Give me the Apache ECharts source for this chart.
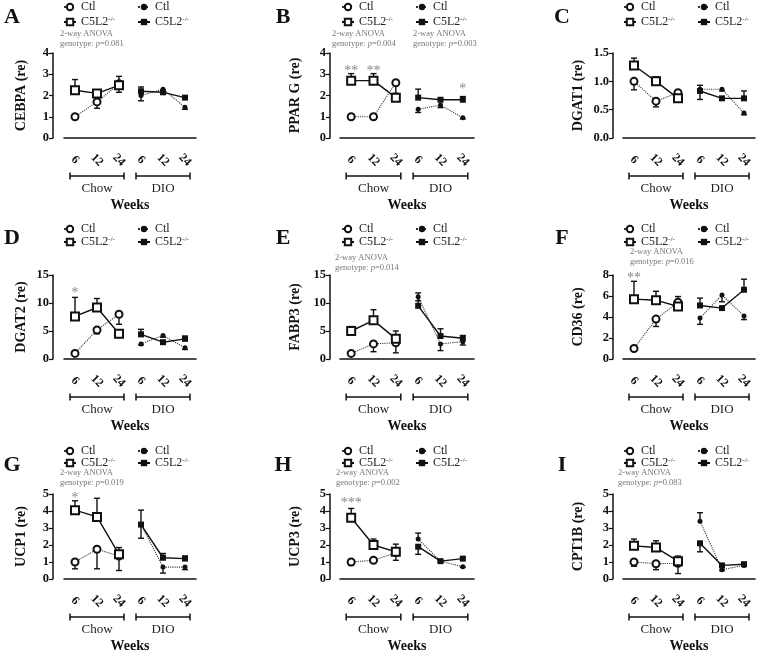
<!DOCTYPE html>
<html>
<head>
<meta charset="utf-8">
<title>C5L2 gene expression</title>
<script src="https://cdn.jsdelivr.net/npm/echarts@6.0.0/dist/echarts.min.js"></script>
<style>
  html, body { margin: 0; padding: 0; background: #fff; }
  #chart { width: 760px; height: 654px; }
</style>
</head>
<body>
<div id="chart"></div>
<script>
// categories: three time points (weeks) for each diet
const diets = ['Chow', 'DIO'];
const weeks = ['6', '12', '24'];
const genes = ['CEBPA', 'PPAR G', 'DGAT1', 'DGAT2', 'FABP3', 'CD36', 'UCP1', 'UCP3', 'CPT1B'];
const letters = ['A', 'B', 'C', 'D', 'E', 'F', 'G', 'H', 'I'];

// y axis range per panel
const yMax = [4, 4, 1.5, 15, 15, 8, 5, 5, 5];
const yStep = [1, 1, 0.5, 5, 5, 2, 1, 1, 1];

// means, order: Chow 6/12/24, DIO 6/12/24
const ctlMean = [
  [1.0, 1.7, 2.55, 2.0, 2.3, 1.45],
  [1.0, 1.0, 2.6, 1.35, 1.55, 0.95],
  [1.0, 0.65, 0.8, 0.86, 0.86, 0.44],
  [1.0, 5.2, 8.0, 2.7, 4.2, 2.0],
  [1.0, 2.7, 2.9, 11.1, 2.7, 3.1],
  [1.0, 3.8, 5.4, 3.9, 6.1, 4.1],
  [1.0, 1.75, 1.35, 3.2, 0.7, 0.7],
  [1.0, 1.1, 1.55, 2.35, 1.05, 0.72],
  [1.0, 0.9, 0.92, 3.4, 0.55, 0.8]
];
// SEM, sign gives the side the bar is drawn on (+ above, - below)
const ctlErr = [
  [-0.1, -0.3, -0.4, -0.25, -0.1, -0.1],
  [-0.1, -0.1, -0.5, -0.15, -0.12, -0.05],
  [-0.15, -0.1, -0.03, -0.18, -0.03, -0.03],
  [-0.3, -0.7, -1.8, -0.2, -0.3, -0.3],
  [-0.2, -1.4, -1.8, -0.7, -1.2, -0.6],
  [-0.1, -0.7, -0.4, -0.6, -0.65, -0.35],
  [-0.4, -1.15, -0.85, -0.8, -0.35, -0.15],
  [-0.2, -0.1, -0.45, 0.35, -0.05, -0.03],
  [-0.25, -0.35, -0.6, 0.5, -0.05, -0.05]
];
const koMean = [
  [2.25, 2.1, 2.48, 2.2, 2.15, 1.9],
  [2.7, 2.7, 1.9, 1.9, 1.8, 1.8],
  [1.28, 1.0, 0.7, 0.83, 0.7, 0.7],
  [7.6, 9.2, 4.5, 4.4, 3.0, 3.6],
  [5.0, 6.9, 3.6, 9.5, 4.1, 3.7],
  [5.7, 5.6, 5.0, 5.1, 4.85, 6.6],
  [4.05, 3.65, 1.45, 3.2, 1.25, 1.2],
  [3.6, 2.0, 1.6, 1.9, 1.05, 1.2],
  [1.95, 1.85, 1.05, 2.1, 0.8, 0.87]
];
const koErr = [
  [0.5, 0.1, 0.42, 0.2, 0.1, 0.05],
  [0.33, 0.33, 0.12, 0.4, 0.04, 0.15],
  [0.13, 0.08, 0.03, 0.1, 0.02, 0.13],
  [3.4, 1.6, 0.2, 0.9, 0.3, 0.5],
  [0.8, 1.9, 1.4, 2.3, 1.3, 0.5],
  [1.7, 0.85, 0.95, 0.7, 0.1, 1.0],
  [0.55, 1.1, 0.4, 0.85, 0.25, 0.15],
  [0.55, 0.35, 0.45, -0.45, 0.05, 0.05],
  [0.4, 0.4, 0.3, -0.5, 0.05, 0.05]
];

// 2-way ANOVA, genotype p value: [panel, p]
const anova = [[0, '0.081'], [1, '0.004'], [1, '0.003'], [4, '0.014'], [5, '0.016'], [6, '0.019'], [7, '0.002'], [8, '0.083']];
// significance marks: [panel, point, y, text]
const stars = [[1, 0, 3.27, '**'], [1, 1, 3.27, '**'], [1, 5, 2.45, '*'], [3, 0, 12.3, '*'],
  [5, 0, 8.0, '**'], [6, 0, 4.95, '*'], [7, 0, 4.65, '***']];

// layout (pixels)
const colLeft = [64, 340, 623];
const colWidth = [132, 134, 132];
const yOffset = [11, 10, 10];
const rowTop = [53, 275, 494];
const rowHeight = [85, 84, 85];
const letterX = [12, 283, 562];
const letterY = [17, 238, 465];
const legLeftX = [69, 347, 629];
const legRightX = [143, 421, 703];
const legTop = [1, 223, 445];
const legGap = [3, 1, 0];
const anovaPos = [[60, 34], [332, 34], [413, 34], [335, 258], [630, 252], [60, 473], [336, 473], [618, 473]];

const SERIF = '"Liberation Serif", "Times New Roman", serif';
const INK = '#111';

const categories = [];
diets.forEach(d => weeks.forEach(w => categories.push(d + ' ' + w)));

function groupData(values, start) {
  return categories.map((c, k) => (k >= start && k < start + 3) ? values[k] : '-');
}

function lineSeries(i, name, values, start, symbol, size, dotted) {
  return {
    type: 'line', name, xAxisIndex: i, yAxisIndex: i,
    data: groupData(values, start),
    symbol, symbolSize: size, z: 3, silent: true,
    itemStyle: { color: INK, borderColor: INK, borderWidth: symbol.indexOf('empty') === 0 ? 1.6 : 0 },
    lineStyle: dotted ? { color: '#333', width: 1.1, type: 'dotted' } : { color: INK, width: 1.4 },
    emphasis: { disabled: true }
  };
}

function renderErr(params, api) {
  const x = api.value(0), m = api.value(1), e = api.value(2);
  const p0 = api.coord([x, m]);
  const p1 = api.coord([x, m + e]);
  const st = { stroke: INK, lineWidth: 1.4 };
  return {
    type: 'group',
    children: [
      { type: 'line', shape: { x1: p0[0], y1: p0[1], x2: p1[0], y2: p1[1] }, style: st },
      { type: 'line', shape: { x1: p1[0] - 3, y1: p1[1], x2: p1[0] + 3, y2: p1[1] }, style: st }
    ]
  };
}

function renderBracket(params, api) {
  const a = api.coord([api.value(0), 0]);
  const b = api.coord([api.value(1), 0]);
  const y = a[1] + 38, x1 = a[0] - 5, x2 = b[0] + 5;
  const st = { stroke: INK, lineWidth: 1.5 };
  return {
    type: 'group',
    children: [
      { type: 'line', shape: { x1, y1: y, x2, y2: y }, style: st },
      { type: 'line', shape: { x1, y1: y - 3.5, x2: x1, y2: y + 3.5 }, style: st },
      { type: 'line', shape: { x1: x2, y1: y - 3.5, x2, y2: y + 3.5 }, style: st },
      { type: 'text', x: (x1 + x2) / 2, y: y + 13,
        style: { text: diets[params.dataIndex], font: '13px ' + SERIF, fill: '#222', align: 'center', verticalAlign: 'middle' } }
    ]
  };
}

const grid = [], xAxis = [], yAxis = [], series = [], legend = [], graphic = [];

const legendText = {
  fontFamily: SERIF, fontSize: 12, color: '#222', lineHeight: 12,
  rich: {
    t: { fontFamily: SERIF, fontSize: 12, color: '#222', lineHeight: 12 },
    s: { fontFamily: SERIF, fontSize: 7, color: '#222', lineHeight: 12, verticalAlign: 'top' }
  }
};
const legendFormat = name => name.indexOf('Ctl') === 0 ? 'Ctl' : '{t|C5L2}{s|-/-}';

genes.forEach((gene, i) => {
  const col = i % 3, row = Math.floor(i / 3);

  grid.push({ left: colLeft[col], top: rowTop[row], width: colWidth[col], height: rowHeight[row], outerBoundsMode: 'none' });

  xAxis.push({
    type: 'category', gridIndex: i, data: categories, boundaryGap: true, offset: 8,
    axisLine: { lineStyle: { color: INK, width: 1.5 } },
    axisTick: { alignWithLabel: true, length: 3, lineStyle: { color: INK, width: 1.2 } },
    axisLabel: {
      interval: 0, formatter: v => v.split(' ')[1], rotate: -45, align: 'center', verticalAlign: 'middle',
      margin: 14, fontFamily: SERIF, fontWeight: 'bold', fontSize: 12, color: INK
    },
    splitLine: { show: false },
    name: 'Weeks', nameLocation: 'middle', nameGap: 52,
    nameTextStyle: { fontFamily: SERIF, fontWeight: 'bold', fontSize: 14, color: INK }
  });

  yAxis.push({
    type: 'value', gridIndex: i, min: 0, max: yMax[i], interval: yStep[i], offset: yOffset[col],
    axisLine: { show: true, lineStyle: { color: INK, width: 1.5 } },
    axisTick: { show: true, length: 4, lineStyle: { color: INK, width: 1.2 } },
    axisLabel: {
      formatter: v => yStep[i] < 1 ? v.toFixed(1) : String(v),
      fontFamily: SERIF, fontWeight: 'bold', fontSize: 12.5, color: INK, margin: 4
    },
    splitLine: { show: false },
    name: gene + ' (re)', nameLocation: 'middle', nameGap: col === 0 ? 25 : 28, nameRotate: 90, nameMoveOverlap: false,
    nameTextStyle: { fontFamily: SERIF, fontWeight: 'bold', fontSize: 14, color: INK }
  });

  // error bars under the symbols
  const errData = [];
  for (let k = 0; k < 6; k++) {
    errData.push([k, ctlMean[i][k], ctlErr[i][k]]);
    errData.push([k, koMean[i][k], koErr[i][k]]);
  }
  series.push({
    type: 'custom', xAxisIndex: i, yAxisIndex: i, z: 2, silent: true,
    encode: { x: 0, y: 1 }, data: errData, renderItem: renderErr
  });

  series.push(lineSeries(i, 'Ctl (Chow)', ctlMean[i], 0, 'emptyCircle', 7, true));
  series.push(lineSeries(i, 'C5L2 (Chow)', koMean[i], 0, 'emptyRect', 8, false));
  series.push(lineSeries(i, 'Ctl (DIO)', ctlMean[i], 3, 'circle', 5, true));
  series.push(lineSeries(i, 'C5L2 (DIO)', koMean[i], 3, 'rect', 6, false));

  const marks = stars.filter(s => s[0] === i);
  if (marks.length) {
    series.push({
      type: 'custom', xAxisIndex: i, yAxisIndex: i, z: 4, silent: true,
      encode: { x: 0, y: 1 }, data: marks.map(s => [s[1], s[2]]),
      renderItem: (params, api) => {
        const p = api.coord([api.value(0), api.value(1)]);
        return { type: 'text', x: p[0], y: p[1] + 3,
          style: { text: marks[params.dataIndex][3], font: '14px ' + SERIF, fill: '#888', align: 'center', verticalAlign: 'middle' } };
      }
    });
  }

  series.push({
    type: 'custom', xAxisIndex: i, yAxisIndex: i, z: 3, silent: true,
    encode: { x: [0, 1], y: 2 }, data: [[0, 2, 0], [3, 5, 0]], renderItem: renderBracket
  });

  legend.push({
    left: legLeftX[col] - 6, top: legTop[row], orient: 'vertical', itemWidth: 12, itemHeight: 8, padding: 0,
    itemGap: legGap[row], selectedMode: false, data: ['Ctl (Chow)', 'C5L2 (Chow)'],
    textStyle: legendText, formatter: legendFormat
  });
  legend.push({
    left: legRightX[col] - 6, top: legTop[row], orient: 'vertical', itemWidth: 12, itemHeight: 8, padding: 0,
    itemGap: legGap[row], selectedMode: false, data: ['Ctl (DIO)', 'C5L2 (DIO)'],
    textStyle: legendText, formatter: legendFormat
  });

  graphic.push({
    type: 'text', x: letterX[col], y: letterY[row], silent: true,
    style: { text: letters[i], font: 'bold 22px ' + SERIF, fill: INK, align: 'center', verticalAlign: 'middle' }
  });
});

anova.forEach((a, k) => {
  const [x, y] = anovaPos[k];
  graphic.push({
    type: 'text', x, y, silent: true,
    style: { text: '2-way ANOVA', font: '8.5px ' + SERIF, fill: '#777', verticalAlign: 'middle' }
  });
  graphic.push({
    type: 'text', x, y: y + 10, silent: true,
    style: {
      text: 'genotype: {i|p}=' + a[1], font: '8.5px ' + SERIF, fill: '#777', verticalAlign: 'middle',
      rich: { i: { font: 'italic 8.5px ' + SERIF, fill: '#777' } }
    }
  });
});

const chart = echarts.init(document.getElementById('chart'));
chart.setOption({
  animation: false,
  backgroundColor: '#fff',
  grid, xAxis, yAxis, series, legend, graphic
});
</script>
</body>
</html>
